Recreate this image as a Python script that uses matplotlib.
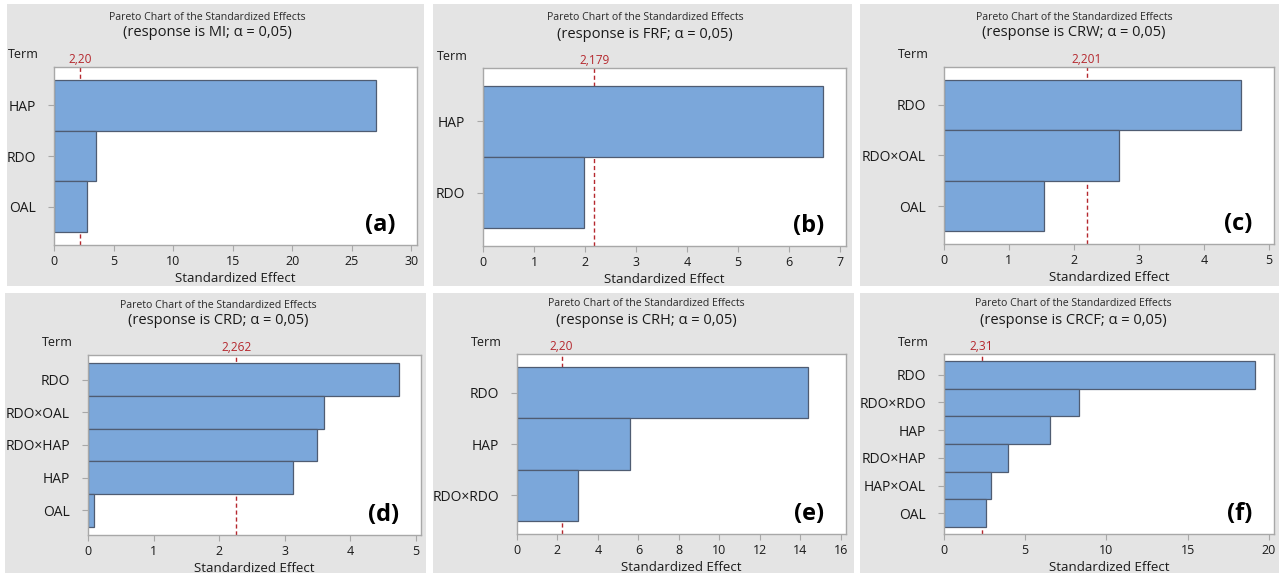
import math
import matplotlib
matplotlib.use("Agg")
import matplotlib.pyplot as plt
from matplotlib.patches import Rectangle
from matplotlib.transforms import blended_transform_factory, offset_copy

plt.rcParams['font.family'] = ['Open Sans', 'DejaVu Sans']

# data
responses = ["MI", "FRF", "CRW", "CRD", "CRH", "CRCF"]
panel_tags = ["(a)", "(b)", "(c)", "(d)", "(e)", "(f)"]

terms_a = ["HAP", "RDO", "OAL"]
effects_a = [27.07, 3.56, 2.75]
terms_b = ["HAP", "RDO"]
effects_b = [6.66, 1.97]
terms_c = ["RDO", "RDO×OAL", "OAL"]
effects_c = [4.57, 2.69, 1.54]
terms_d = ["RDO", "RDO×OAL", "RDO×HAP", "HAP", "OAL"]
effects_d = [4.75, 3.60, 3.49, 3.13, 0.09]
terms_e = ["RDO", "HAP", "RDO×RDO"]
effects_e = [14.39, 5.56, 2.99]
terms_f = ["RDO", "RDO×RDO", "HAP", "RDO×HAP", "HAP×OAL", "OAL"]
effects_f = [19.14, 8.29, 6.53, 3.93, 2.91, 2.60]

crit_values = [2.20, 2.179, 2.201, 2.262, 2.20, 2.31]
crit_labels = ["2,20", "2,179", "2,201", "2,262", "2,20", "2,31"]
tick_steps = [5, 1, 1, 1, 2, 5]

all_terms = [terms_a, terms_b, terms_c, terms_d, terms_e, terms_f]
all_effects = [effects_a, effects_b, effects_c, effects_d, effects_e, effects_f]

W, H = 1279, 575
fig = plt.figure(figsize=(W / 100, H / 100), dpi=100)

# layout in pixels: grey panel boxes, axes boxes (left, top, right, bottom)
panels = [(7, 4, 424, 286), (433, 4, 852, 286), (860, 4, 1279, 286),
          (5, 293, 426, 573), (433, 293, 854, 573), (860, 293, 1279, 573)]
axboxes = [(54, 67, 417, 245), (483, 68, 846, 246), (944, 67, 1274, 244),
           (88, 355, 421, 535), (517, 354, 846, 534), (944, 354, 1274, 534)]
title_x = [207, 645, 1074, 218, 646, 1073]

bar_color = "#7ba7da"
edge_color = "#4f5c72"
red = "#b5282e"
spine_c = "#a8a8a8"
txt_c = "#1a1a1a"

def fx(x):
    return x / W

def fy(y):
    return 1 - y / H

for i in range(6):
    px0, py0, px1, py1 = panels[i]
    fig.add_artist(Rectangle((fx(px0), fy(py1)), fx(px1 - px0), (py1 - py0) / H,
                             transform=fig.transFigure, facecolor="#e4e4e4",
                             edgecolor="none", zorder=0))

    l, t, r, b = axboxes[i]
    ax = fig.add_axes([fx(l), fy(b), fx(r - l), (b - t) / H])
    ax.set_facecolor("white")

    terms = all_terms[i]
    effects = all_effects[i]
    n = len(terms)
    pos = list(range(n))
    ax.barh(pos, effects, height=1.0, color=bar_color, edgecolor=edge_color,
            linewidth=0.9, zorder=2)
    ax.axvline(crit_values[i], color=red, ls=(0, (3, 2)), lw=1.0, zorder=1)

    step = tick_steps[i]
    top = math.ceil(max(max(effects), crit_values[i]) / step) * step
    ax.set_xlim(0, top * 1.016)
    ax.set_ylim(n - 0.25, -0.75)
    ax.set_xticks(range(0, top + 1, step))
    ax.set_yticks(pos)
    ax.set_yticklabels(terms)

    for s in ax.spines.values():
        s.set_color(spine_c)
        s.set_linewidth(1.0)
    ax.tick_params(axis="y", length=4, pad=9, color=spine_c, labelsize=10,
                   labelcolor=txt_c)
    ax.tick_params(axis="x", length=4, pad=3, color=spine_c, labelsize=9,
                   labelcolor=txt_c)
    ax.set_xlabel("Standardized Effect", fontsize=9.5, color=txt_c, labelpad=3)

    # critical value label above the axes
    tr = blended_transform_factory(ax.transData, ax.transAxes)
    ax.text(crit_values[i], 1.0, crit_labels[i], transform=offset_copy(tr, fig=fig, y=1, units="dots"),
            ha="center", va="bottom", color=red, fontsize=8.6)

    ax.text(1 - 22 / (r - l), 8 / (b - t), panel_tags[i], transform=ax.transAxes,
            ha="right", va="bottom", fontsize=17, fontweight="bold", color="black")

    fig.text(fx(l - 15), fy(t - 12), "Term", ha="right", va="center",
             fontsize=9, color=txt_c)
    fig.text(fx(title_x[i]), fy(t - 50), "Pareto Chart of the Standardized Effects",
             ha="center", va="center", fontsize=7.6, color="#2a2a2a")
    fig.text(fx(title_x[i]), fy(t - 34), "(response is %s; α = 0,05)" % responses[i],
             ha="center", va="center", fontsize=10.5, color=txt_c)

fig.savefig("out.png", dpi=100, facecolor="white")
